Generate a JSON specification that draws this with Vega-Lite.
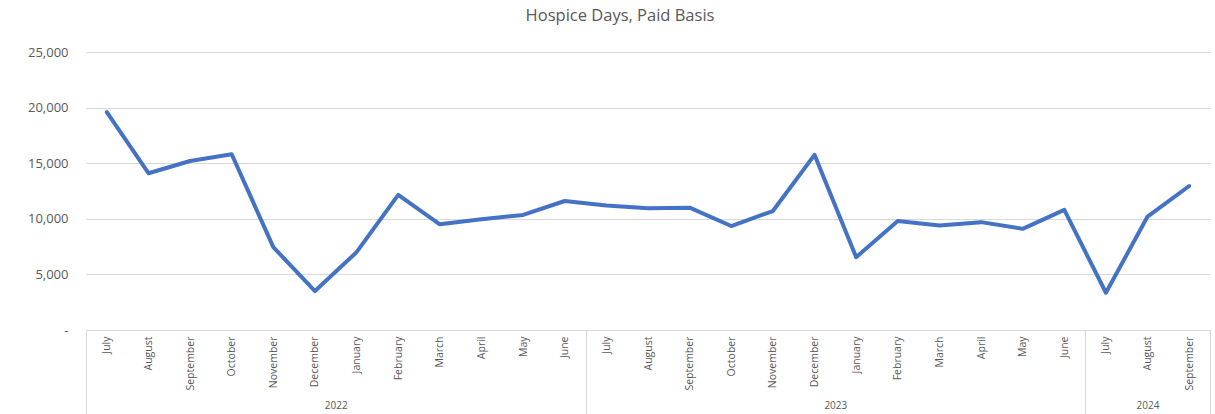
{
  "$schema": "https://vega.github.io/schema/vega-lite/v6.json",
  "width": 1124,
  "height": 278,
  "autosize": {"type": "none"},
  "padding": {"left": 86, "top": 52, "right": 5, "bottom": 84},
  "background": "white",
  "title": {"text": "Hospice Days, Paid Basis", "font": "Open Sans", "fontSize": 16.5, "fontWeight": "normal", "color": "#595959", "offset": 22, "anchor": "middle", "dx": -28},
  "config": {"view": {"stroke": null}, "font": "Open Sans"},
  "data": {"values": [
    {"idx": 1, "month": "July", "year": "2022", "days": 19600},
    {"idx": 2, "month": "August", "year": "2022", "days": 14100},
    {"idx": 3, "month": "September", "year": "2022", "days": 15200},
    {"idx": 4, "month": "October", "year": "2022", "days": 15800},
    {"idx": 5, "month": "November", "year": "2022", "days": 7450},
    {"idx": 6, "month": "December", "year": "2022", "days": 3500},
    {"idx": 7, "month": "January", "year": "2022", "days": 7000},
    {"idx": 8, "month": "February", "year": "2022", "days": 12150},
    {"idx": 9, "month": "March", "year": "2022", "days": 9500},
    {"idx": 10, "month": "April", "year": "2022", "days": 9950},
    {"idx": 11, "month": "May", "year": "2022", "days": 10350},
    {"idx": 12, "month": "June", "year": "2022", "days": 11600},
    {"idx": 13, "month": "July", "year": "2023", "days": 11200},
    {"idx": 14, "month": "August", "year": "2023", "days": 10950},
    {"idx": 15, "month": "September", "year": "2023", "days": 11000},
    {"idx": 16, "month": "October", "year": "2023", "days": 9350},
    {"idx": 17, "month": "November", "year": "2023", "days": 10700},
    {"idx": 18, "month": "December", "year": "2023", "days": 15750},
    {"idx": 19, "month": "January", "year": "2023", "days": 6550},
    {"idx": 20, "month": "February", "year": "2023", "days": 9800},
    {"idx": 21, "month": "March", "year": "2023", "days": 9400},
    {"idx": 22, "month": "April", "year": "2023", "days": 9700},
    {"idx": 23, "month": "May", "year": "2023", "days": 9100},
    {"idx": 24, "month": "June", "year": "2023", "days": 10800},
    {"idx": 25, "month": "July", "year": "2024", "days": 3350},
    {"idx": 26, "month": "August", "year": "2024", "days": 10200},
    {"idx": 27, "month": "September", "year": "2024", "days": 12950}
  ]},
  "encoding": {
    "y": {
      "field": "days", "type": "quantitative",
      "scale": {"domain": [0, 25000], "nice": false},
      "axis": {
        "title": null, "values": [0, 5000, 10000, 15000, 20000, 25000],
        "labelExpr": "datum.value == 0 ? '-\u2007' : format(datum.value, ',')",
        "grid": true, "gridColor": "#d9d9d9", "gridWidth": 1,
        "ticks": false, "domain": false,
        "labelPadding": 18, "labelFontSize": 13, "labelColor": "#595959", "labelFont": "Open Sans"
      }
    }
  },
  "layer": [
    {
      "mark": {"type": "line", "color": "#4472C4", "strokeWidth": 4, "strokeCap": "round", "strokeJoin": "round"},
      "encoding": {
        "x": {
          "field": "idx", "type": "ordinal",
          "scale": {"type": "point", "padding": 0.5},
          "axis": {
            "orient": "bottom", "title": null, "labelAngle": -90, "grid": false,
            "labelExpr": "['June','July','August','September','October','November','December','January','February','March','April','May'][datum.value % 12]",
            "ticks": false, "domainColor": "#d9d9d9", "domainWidth": 1,
            "labelColor": "#595959", "labelFontSize": 10.5, "labelPadding": 6, "labelFont": "Open Sans"
          }
        }
      }
    },
    {
      "mark": {"type": "point", "opacity": 0},
      "encoding": {
        "x": {
          "field": "idx", "type": "quantitative",
          "scale": {"domain": [0.5, 27.5], "nice": false, "zero": false},
          "axis": {
            "orient": "bottom", "title": null, "grid": false, "labels": false, "domain": false,
            "values": [0.5, 12.5, 24.5, 27.5], "tickSize": 84, "tickColor": "#d9d9d9", "tickWidth": 1
          }
        }
      }
    },
    {
      "mark": {"type": "point", "opacity": 0},
      "encoding": {
        "x": {
          "field": "idx", "type": "quantitative",
          "scale": {"domain": [0.5, 27.5], "nice": false, "zero": false},
          "axis": {
            "orient": "bottom", "title": null, "grid": false, "ticks": false, "domain": false,
            "values": [6.5, 18.5, 26],
            "labelExpr": "datum.value < 12 ? '2022' : datum.value < 24 ? '2023' : '2024'",
            "labelPadding": 70, "labelFontSize": 10, "labelColor": "#595959", "labelFont": "Open Sans", "labelFlush": false
          }
        }
      }
    }
  ],
  "resolve": {"scale": {"x": "independent"}, "axis": {"x": "independent"}}
}
